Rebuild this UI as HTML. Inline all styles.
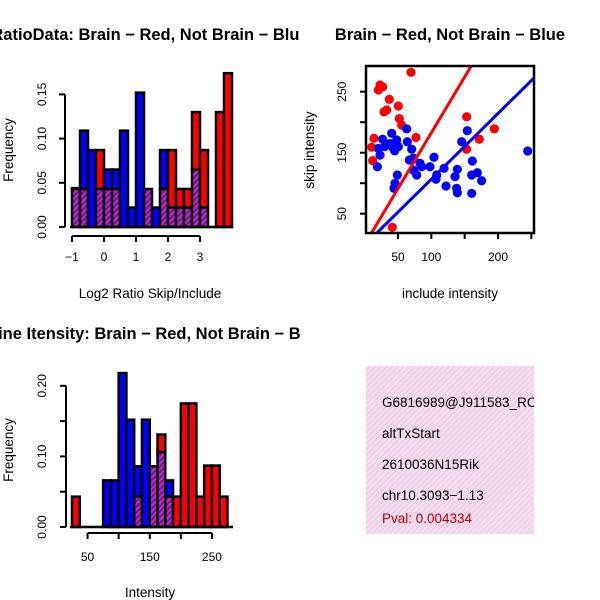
<!DOCTYPE html>
<html><head><meta charset="utf-8"><style>
body{margin:0;background:#fff}
svg{display:block;font-family:"Liberation Sans",sans-serif}
</style></head><body>
<svg id="c" width="600" height="600" viewBox="0 0 600 600">
<defs>
<pattern id="hp" width="4" height="4" patternUnits="userSpaceOnUse" patternTransform="rotate(45)">
<rect width="4" height="4" fill="#8a0aa0"/><rect width="1.6" height="4" fill="#b040c0"/></pattern>
<pattern id="pk" width="4" height="4" patternUnits="userSpaceOnUse" patternTransform="rotate(45)">
<rect width="4" height="4" fill="#f7dcf2"/><rect width="1.3" height="4" fill="#e6cfe0"/></pattern>
<clipPath id="boxclip"><rect x="366" y="366" width="168" height="168"/></clipPath>
<clipPath id="leftclip"><rect x="0" y="0" width="300" height="600"/></clipPath>
</defs>
</svg>
<script>
// ===== Panel 1: ratio histogram =====
const ratioBinStart=-1, ratioBinWidth=0.25;
const ratioRed=[0.043,0.043,0,0.087,0.043,0.043,0,0,0,0.043,0,0.043,0.087,0.043,0.043,0.13,0.087,0,0.13,0.174];
const ratioBlue=[0.044,0.109,0.087,0.043,0.065,0.065,0.109,0.022,0.152,0.043,0.022,0.087,0.022,0.022,0.022,0.065,0.022,0,0,0];
const ratioXTicks=[-1,0,1,2,3];
const ratioYTicks=[0,0.05,0.1,0.15];
// ===== Panel 2: scatter =====
const redX=[69.5,23,20.5,27,37,50.5,29,33,52,55.5,153,194.5,172,153,77,14,10.5,12,41.5];
const redY=[281.8,261,252.8,258,237.5,226.6,217,220,206,195,209,189,172,155.6,175,173.6,159,137,27.7];
const blueX=[63,40.5,48,43,50.5,27,20.5,23,19,64,70.5,73,67,83,85.5,98,104,73,78,49,45.5,44,108,107,119,139,135.5,122,138,139,160.5,160.5,169,175.5,161.5,145.5,154,244.5,38,45,30];
const blueY=[189,181.8,170.8,157,160,172,157,146,127,168,155.6,141,138,132.6,127,127,142.5,121.6,113.4,113.4,99.8,91.6,113.4,106.4,124.4,122.8,110.7,95.4,91.6,84.4,83.4,113.4,117.2,104,136.4,168,186,152.8,165,153,160];
const redFit=[1.83,-0.4];   // slope, intercept
const blueFit=[1.078,-1.3];
const scXTicks=[50,100,150,200,250];
const scXLabels=["50","100","","200",""];
const scYTicks=[50,100,150,200,250];
const scYLabels=["50","","150","","250"];
// ===== Panel 3: intensity histogram =====
const intBinStart=25, intBinWidth=12.5;
const intRed=[0.043,0,0,0,0,0,0,0,0.043,0,0.086,0.131,0.043,0.043,0.175,0.175,0.043,0.087,0.087,0.043];
const intBlue=[0,0,0,0,0.066,0.066,0.218,0.152,0.086,0.152,0.086,0.106,0.066,0,0,0,0,0,0,0];
const intXTicks=[50,100,150,200,250];
const intXLabels=["50","","150","","250"];
const intYTicks=[0,0.05,0.1,0.15,0.2];
const intYLabels=["0.00","","0.10","","0.20"];
// ===== Panel 4 text =====
const infoLines=["G6816989@J911583_RC","altTxStart","2610036N15Rik","chr10.3093\u22121.13"];
const pvalText="Pval: 0.004334";

const svg=document.getElementById('c');
const NS='http://www.w3.org/2000/svg';
function el(tag,attrs,parent){const e=document.createElementNS(NS,tag);for(const k in attrs)e.setAttribute(k,attrs[k]);(parent||svg).appendChild(e);return e;}
function txt(x,y,s,attrs,parent){const e=el('text',Object.assign({x:x,y:y,'font-size':12,'text-anchor':'middle',fill:'#000'},attrs||{}),parent);e.textContent=s;return e;}
const TF=16.5, AF=13.5;

// --- Panel 1 ---
{
const g=el('g',{'clip-path':'url(#leftclip)'});


const X=v=>72+(v-ratioBinStart)*32, Y=v=>227-v/0.05*44.2;
const bw=ratioBinWidth*32;
for(let i=0;i<ratioRed.length;i++){
  const x0=X(ratioBinStart+i*ratioBinWidth);
  const r=ratioRed[i],b=ratioBlue[i],hi=Math.max(r,b),lo=Math.min(r,b);
  if(hi>0){const top=el('rect',{x:x0,y:Y(hi),width:bw,height:Y(lo)-Y(hi),fill:r>=b?'#f00':'#00f',stroke:'#000','stroke-width':2.5},g);
    
    }
  if(lo>0){const ov=el('rect',{x:x0,y:Y(lo),width:bw,height:227-Y(lo),fill:'url(#hp)',stroke:'#000','stroke-width':2.5},g);
    
    }
}
el('line',{x1:70,y1:227,x2:233,y2:227,stroke:'#000','stroke-width':2.5},g);
el('line',{x1:X(-1),y1:236,x2:X(3),y2:236,stroke:'#000','stroke-width':2},g);
ratioXTicks.forEach(t=>{el('line',{x1:X(t),y1:236,x2:X(t),y2:242,stroke:'#000','stroke-width':2},g);txt(X(t),261,t<0?'\u22121':String(t),{},g);});
el('line',{x1:65,y1:Y(0),x2:65,y2:Y(0.15),stroke:'#000','stroke-width':2},g);
ratioYTicks.forEach(t=>{el('line',{x1:59,y1:Y(t),x2:65,y2:Y(t),stroke:'#000','stroke-width':2},g);txt(46,Y(t),t.toFixed(2),{transform:'rotate(-90 46 '+Y(t)+')'},g);});
const t1=txt(150,40,'RatioData: Brain \u2212 Red, Not Brain \u2212 Blue',{'font-weight':'bold','font-size':TF},g);

const xl=txt(150,298,'Log2 Ratio Skip/Include',{'font-size':AF},g);

const yl=txt(13,150,'Frequency',{transform:'rotate(-90 13 150)','font-size':AF},g);

}

// --- Panel 2 ---
{
const g=el('g',{});


const X=v=>398+(v-50)/1.5, Y=v=>152.7-(v-150)*0.61;
el('clipPath',{id:'scclip'},g).appendChild(document.createElementNS(NS,'rect'));
const cr=g.querySelector('#scclip rect');cr.setAttribute('x',366);cr.setAttribute('y',66);cr.setAttribute('width',168);cr.setAttribute('height',167);
const inner=el('g',{'clip-path':'url(#scclip)'},g);
redX.forEach((v,i)=>{const c=el('circle',{cx:X(v),cy:Y(redY[i]),r:4.6,fill:'#f00'},inner);
  });
blueX.forEach((v,i)=>{const c=el('circle',{cx:X(v),cy:Y(blueY[i]),r:4.6,fill:'#00f'},inner);
  });
[[redFit,'#f00','brain-fit-line'],[blueFit,'#00f','not-brain-fit-line']].forEach(([f,col,nm])=>{
  const xa=0,xb=300;const l=el('line',{x1:X(xa),y1:Y(f[0]*xa+f[1]),x2:X(xb),y2:Y(f[0]*xb+f[1]),stroke:col,'stroke-width':3},inner);
  });
el('rect',{x:366,y:66,width:168,height:167,fill:'none',stroke:'#000','stroke-width':2.5},g);
scXTicks.forEach((t,i)=>{el('line',{x1:X(t),y1:233,x2:X(t),y2:239,stroke:'#000','stroke-width':2},g);if(scXLabels[i])txt(X(t),261,scXLabels[i],{},g);});
scYTicks.forEach((t,i)=>{el('line',{x1:360,y1:Y(t),x2:366,y2:Y(t),stroke:'#000','stroke-width':2},g);if(scYLabels[i])txt(346,Y(t),scYLabels[i],{transform:'rotate(-90 346 '+Y(t)+')'},g);});
const t2=txt(450,40,'Brain \u2212 Red, Not Brain \u2212 Blue',{'font-weight':'bold','font-size':TF},g);

const xl=txt(450,298,'include intensity',{'font-size':AF},g);

const yl=txt(314,150,'skip intensity',{transform:'rotate(-90 314 150)','font-size':AF},g);

}

// --- Panel 3 ---
{
const g=el('g',{'clip-path':'url(#leftclip)'});


const X=v=>72+(v-intBinStart)*0.622, Y=v=>527-v/0.05*35.3;
const bw=intBinWidth*0.622;
for(let i=0;i<intRed.length;i++){
  const x0=X(intBinStart+i*intBinWidth);
  const r=intRed[i],b=intBlue[i],hi=Math.max(r,b),lo=Math.min(r,b);
  if(hi>0){const top=el('rect',{x:x0,y:Y(hi),width:bw,height:Y(lo)-Y(hi),fill:r>=b?'#f00':'#00f',stroke:'#000','stroke-width':2.5},g);
    
    }
  if(lo>0){const ov=el('rect',{x:x0,y:Y(lo),width:bw,height:527-Y(lo),fill:'url(#hp)',stroke:'#000','stroke-width':2.5},g);
    
    }
}
el('line',{x1:70,y1:527,x2:233,y2:527,stroke:'#000','stroke-width':2.5},g);
el('line',{x1:X(50),y1:533,x2:X(250),y2:533,stroke:'#000','stroke-width':2},g);
intXTicks.forEach((t,i)=>{el('line',{x1:X(t),y1:533,x2:X(t),y2:539,stroke:'#000','stroke-width':2},g);if(intXLabels[i])txt(X(t),561,intXLabels[i],{},g);});
el('line',{x1:66,y1:Y(0),x2:66,y2:Y(0.2),stroke:'#000','stroke-width':2},g);
intYTicks.forEach((t,i)=>{el('line',{x1:60,y1:Y(t),x2:66,y2:Y(t),stroke:'#000','stroke-width':2},g);if(intYLabels[i])txt(46,Y(t),intYLabels[i],{transform:'rotate(-90 46 '+Y(t)+')'},g);});
const t3=txt(134,339,'Exon\u2212line Itensity: Brain \u2212 Red, Not Brain \u2212 Blue',{'font-weight':'bold','font-size':TF},g);

const xl=txt(150,597,'Intensity',{'font-size':AF},g);

const yl=txt(13,450,'Frequency',{transform:'rotate(-90 13 450)','font-size':AF},g);

}

// --- Panel 4 ---
{
const g=el('g',{'clip-path':'url(#boxclip)'});


el('rect',{x:366,y:366,width:168,height:168,fill:'url(#pk)'},g);
const ys=[407,438,469,500];
infoLines.forEach((s,i)=>{const t=txt(382,ys[i],s,{'text-anchor':'start','font-size':AF},g);
  });
const p=txt(382,523,pvalText,{'text-anchor':'start','font-size':AF,fill:'#c00000'},g);

}
</script>
</body></html>
